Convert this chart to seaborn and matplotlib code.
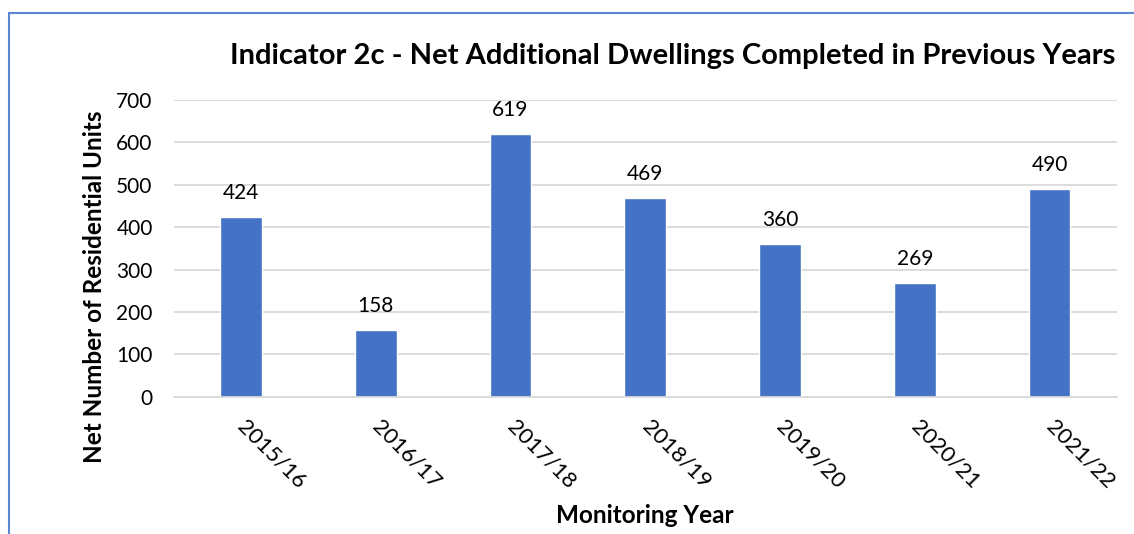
import matplotlib
matplotlib.use("Agg")
import matplotlib.pyplot as plt
import matplotlib.transforms as mtransforms
import pandas as pd
import seaborn as sns
from matplotlib.lines import Line2D

years = ["2015/16", "2016/17", "2017/18", "2018/19", "2019/20", "2020/21", "2021/22"]
net_units = [424, 158, 619, 469, 360, 269, 490]
y_ticks = [0, 100, 200, 300, 400, 500, 600, 700]

BAR_COLOR = "#4472C4"
GRID_COLOR = "#D9D9D9"

sns.set_theme(style="white")
plt.rcParams["font.family"] = ["Lato", "DejaVu Sans"]
plt.rcParams["text.color"] = "#000000"

df = pd.DataFrame({"year": years, "units": net_units})

fig = plt.figure(figsize=(11.34, 5.34), dpi=100)
ax = fig.add_axes([0.153, 0.257, 0.832, 0.556])

sns.barplot(data=df, x="year", y="units", color=BAR_COLOR, width=0.31,
            saturation=1, ax=ax)

for i, v in enumerate(net_units):
    ax.annotate(str(v), (i, v), xytext=(0, 10), textcoords="offset points",
                ha="center", va="bottom", fontsize=15, color="#000000")

ax.set_ylim(0, 700)
ax.set_yticks(y_ticks)
ax.set_xlim(-0.5, len(years) - 0.5)
ax.yaxis.grid(True, color=GRID_COLOR, linewidth=1.3)
ax.set_axisbelow(True)
for s in ["top", "right", "left"]:
    ax.spines[s].set_visible(False)
ax.spines["bottom"].set_color(GRID_COLOR)
ax.spines["bottom"].set_linewidth(1.3)
ax.tick_params(axis="y", length=0, labelsize=15, colors="#000000", pad=15)
ax.tick_params(axis="x", length=0, labelsize=16, colors="#000000", pad=14)

# rotated year labels, nudged a little right to sit like the original
shift = mtransforms.ScaledTranslation(5 / 72, 0, fig.dpi_scale_trans)
for lbl in ax.get_xticklabels():
    lbl.set_rotation(-45)
    lbl.set_ha("left")
    lbl.set_rotation_mode("anchor")
    lbl.set_transform(lbl.get_transform() + shift)

ax.set_xlabel("Monitoring Year", fontsize=17.5, fontweight="bold", color="#000000")
ax.xaxis.set_label_coords(0.5, -0.40)
ax.xaxis.label.set_va("center")
ax.set_ylabel("Net Number of Residential Units", fontsize=17.5, fontweight="bold",
              color="#000000")
ax.yaxis.set_label_coords(-0.084, 0.37)
ax.yaxis.label.set_va("center")

fig.text(0.984, 0.895, "Indicator 2c - Net Additional Dwellings Completed in Previous Years",
         ha="right", va="center", fontsize=21, fontweight="bold", color="#000000")

# chart border (top and left edges visible in the crop)
fig.add_artist(Line2D([0.008, 1.0], [0.975, 0.975], color="#5B87D0", linewidth=1.5))
fig.add_artist(Line2D([0.008, 0.008], [0.975, 0.0], color="#5B87D0", linewidth=1.5))

fig.savefig("out.png", dpi=100)
